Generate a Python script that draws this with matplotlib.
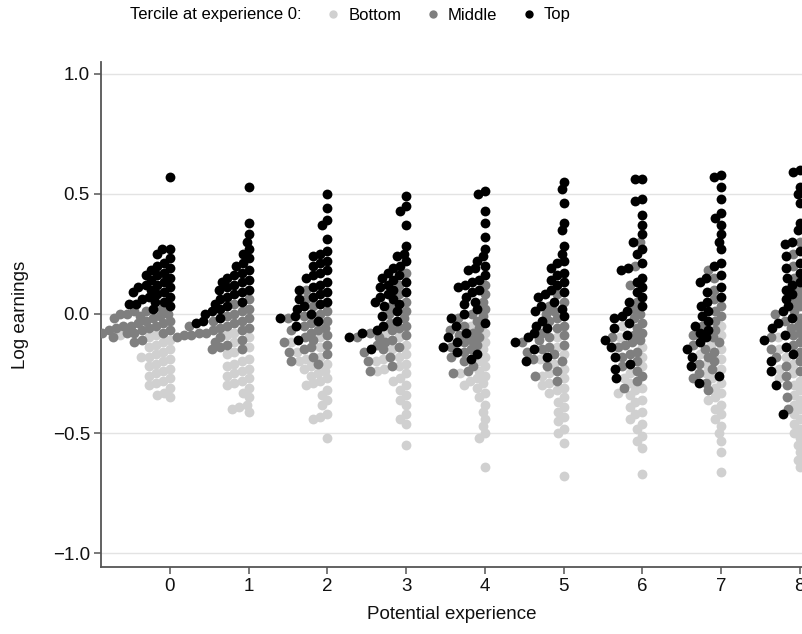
import numpy as np
import matplotlib
matplotlib.use("Agg")
import matplotlib.pyplot as plt
from matplotlib.lines import Line2D

# potential experience levels
experience = [0, 1, 2, 3, 4, 5, 6, 7, 8]

# log earnings by tercile at experience 0, one list per experience level
bottom = [
    [-0.09, -0.09, -0.10, -0.11, -0.12, -0.13, -0.14, -0.15, -0.16, -0.17, -0.18, -0.18, -0.19, -0.20,
     -0.21, -0.22, -0.23, -0.24, -0.25, -0.26, -0.27, -0.28, -0.29, -0.30, -0.31, -0.33, -0.34, -0.35],
    [-0.08, -0.09, -0.10, -0.12, -0.14, -0.16, -0.17, -0.19, -0.20, -0.21, -0.22, -0.23, -0.24, -0.25,
     -0.26, -0.27, -0.28, -0.29, -0.30, -0.31, -0.33, -0.35, -0.38, -0.39, -0.40, -0.41],
    [-0.10, -0.12, -0.14, -0.16, -0.18, -0.19, -0.20, -0.21, -0.22, -0.23, -0.24, -0.25, -0.26, -0.27,
     -0.28, -0.29, -0.30, -0.32, -0.34, -0.36, -0.38, -0.42, -0.43, -0.44, -0.52],
    [-0.08, -0.10, -0.13, -0.15, -0.17, -0.18, -0.19, -0.20, -0.21, -0.22, -0.23, -0.24, -0.25, -0.27,
     -0.28, -0.30, -0.32, -0.34, -0.36, -0.38, -0.42, -0.44, -0.46, -0.55],
    [-0.05, -0.08, -0.12, -0.15, -0.18, -0.20, -0.22, -0.24, -0.25, -0.26, -0.27, -0.28, -0.29, -0.30,
     -0.31, -0.33, -0.35, -0.38, -0.41, -0.44, -0.47, -0.50, -0.52, -0.64],
    [-0.10, -0.14, -0.17, -0.19, -0.21, -0.23, -0.25, -0.26, -0.27, -0.29, -0.30, -0.31, -0.32, -0.33,
     -0.35, -0.37, -0.39, -0.41, -0.43, -0.45, -0.48, -0.50, -0.54, -0.68],
    [-0.05, -0.10, -0.14, -0.18, -0.22, -0.25, -0.27, -0.29, -0.31, -0.32, -0.33, -0.34, -0.36, -0.37,
     -0.39, -0.41, -0.42, -0.44, -0.46, -0.48, -0.51, -0.53, -0.56, -0.67],
    [-0.05, -0.09, -0.13, -0.15, -0.17, -0.19, -0.21, -0.23, -0.25, -0.27, -0.29, -0.31, -0.33, -0.35,
     -0.36, -0.38, -0.40, -0.42, -0.44, -0.47, -0.50, -0.53, -0.58, -0.66],
    [-0.10, -0.15, -0.18, -0.21, -0.23, -0.25, -0.27, -0.28, -0.30, -0.32, -0.34, -0.36, -0.38, -0.40,
     -0.42, -0.44, -0.46, -0.48, -0.50, -0.52, -0.55, -0.58, -0.61, -0.64],
]

middle = [
    [0.02, 0.01, 0.01, 0.00, 0.00, 0.00, -0.01, -0.01, -0.02, -0.02, -0.03, -0.03, -0.04, -0.04, -0.05,
     -0.05, -0.05, -0.06, -0.06, -0.07, -0.07, -0.07, -0.08, -0.08, -0.08, -0.08, -0.09, -0.09, -0.10,
     -0.11, -0.12],
    [0.06, 0.04, 0.02, 0.01, 0.00, -0.01, -0.02, -0.03, -0.03, -0.04, -0.05, -0.05, -0.06, -0.06, -0.07,
     -0.07, -0.08, -0.08, -0.09, -0.09, -0.10, -0.10, -0.11, -0.12, -0.13, -0.14, -0.15, -0.15],
    [0.10, 0.06, 0.03, 0.01, 0.00, -0.01, -0.02, -0.03, -0.04, -0.05, -0.06, -0.07, -0.07, -0.08, -0.09,
     -0.10, -0.11, -0.12, -0.13, -0.14, -0.15, -0.16, -0.17, -0.18, -0.20, -0.21],
    [0.17, 0.12, 0.08, 0.05, 0.03, 0.01, 0.00, -0.02, -0.04, -0.05, -0.06, -0.07, -0.08, -0.09, -0.10,
     -0.10, -0.11, -0.12, -0.13, -0.14, -0.15, -0.16, -0.18, -0.20, -0.22, -0.24],
    [0.12, 0.08, 0.05, 0.02, 0.00, -0.01, -0.02, -0.03, -0.05, -0.06, -0.07, -0.08, -0.09, -0.10, -0.11,
     -0.12, -0.13, -0.14, -0.15, -0.16, -0.18, -0.20, -0.22, -0.24, -0.25],
    [0.08, 0.05, 0.03, 0.01, 0.00, -0.02, -0.03, -0.05, -0.06, -0.08, -0.09, -0.10, -0.11, -0.12, -0.13,
     -0.14, -0.15, -0.16, -0.17, -0.19, -0.20, -0.22, -0.24, -0.26, -0.28],
    [0.30, 0.20, 0.12, 0.05, 0.02, 0.00, -0.02, -0.04, -0.06, -0.08, -0.09, -0.10, -0.11, -0.12, -0.13,
     -0.14, -0.16, -0.17, -0.18, -0.20, -0.22, -0.24, -0.26, -0.28, -0.31],
    [0.18, 0.15, 0.10, 0.06, 0.03, 0.01, -0.01, -0.03, -0.05, -0.07, -0.09, -0.10, -0.12, -0.13, -0.15,
     -0.16, -0.18, -0.20, -0.21, -0.23, -0.25, -0.27, -0.29, -0.32],
    [0.30, 0.25, 0.20, 0.15, 0.10, 0.07, 0.05, 0.03, 0.01, 0.00, -0.02, -0.03, -0.05, -0.06, -0.08,
     -0.09, -0.10, -0.12, -0.13, -0.15, -0.16, -0.18, -0.20, -0.22, -0.24, -0.26, -0.30, -0.35, -0.40],
]

top = [
    [0.57, 0.27, 0.27, 0.25, 0.23, 0.21, 0.20, 0.19, 0.18, 0.17, 0.16, 0.16, 0.15, 0.14, 0.13, 0.12,
     0.12, 0.11, 0.11, 0.10, 0.09, 0.09, 0.08, 0.07, 0.07, 0.06, 0.05, 0.05, 0.04, 0.04, 0.03, 0.02],
    [0.53, 0.38, 0.33, 0.30, 0.27, 0.25, 0.23, 0.21, 0.20, 0.18, 0.17, 0.16, 0.15, 0.14, 0.13, 0.13,
     0.12, 0.11, 0.10, 0.10, 0.09, 0.08, 0.07, 0.06, 0.05, 0.04, 0.03, 0.02, 0.01, 0.00, -0.02, -0.03,
     -0.04],
    [0.50, 0.44, 0.39, 0.37, 0.31, 0.26, 0.25, 0.24, 0.22, 0.21, 0.20, 0.18, 0.17, 0.16, 0.15, 0.13,
     0.12, 0.11, 0.10, 0.09, 0.08, 0.07, 0.06, 0.05, 0.04, 0.03, 0.02, 0.00, -0.01, -0.02, -0.03, -0.05,
     -0.11],
    [0.49, 0.45, 0.43, 0.37, 0.28, 0.25, 0.24, 0.22, 0.20, 0.19, 0.17, 0.16, 0.15, 0.14, 0.13, 0.12,
     0.11, 0.10, 0.09, 0.08, 0.07, 0.06, 0.05, 0.04, 0.03, 0.01, -0.01, -0.03, -0.05, -0.07, -0.08,
     -0.10, -0.15],
    [0.51, 0.50, 0.43, 0.38, 0.32, 0.27, 0.24, 0.22, 0.20, 0.19, 0.18, 0.16, 0.14, 0.13, 0.12, 0.11,
     0.10, 0.09, 0.07, 0.05, 0.04, 0.02, 0.00, -0.02, -0.04, -0.05, -0.08, -0.10, -0.12, -0.14, -0.16,
     -0.17, -0.19],
    [0.55, 0.52, 0.46, 0.38, 0.35, 0.28, 0.25, 0.22, 0.21, 0.19, 0.17, 0.16, 0.14, 0.13, 0.12, 0.10,
     0.09, 0.08, 0.07, 0.05, 0.03, 0.02, 0.01, -0.01, -0.03, -0.05, -0.06, -0.08, -0.10, -0.12, -0.15,
     -0.18, -0.20],
    [0.56, 0.56, 0.48, 0.47, 0.41, 0.37, 0.33, 0.30, 0.27, 0.25, 0.21, 0.19, 0.18, 0.15, 0.13, 0.11,
     0.09, 0.07, 0.05, 0.03, 0.01, -0.01, -0.02, -0.04, -0.06, -0.09, -0.11, -0.14, -0.18, -0.21, -0.23,
     -0.27],
    [0.58, 0.57, 0.53, 0.48, 0.42, 0.40, 0.37, 0.33, 0.30, 0.27, 0.21, 0.20, 0.16, 0.15, 0.13, 0.11,
     0.09, 0.07, 0.05, 0.03, 0.01, -0.01, -0.03, -0.05, -0.07, -0.08, -0.10, -0.12, -0.15, -0.18, -0.22,
     -0.26, -0.29],
    [0.60, 0.59, 0.53, 0.50, 0.46, 0.38, 0.35, 0.30, 0.29, 0.26, 0.24, 0.21, 0.19, 0.17, 0.15, 0.13,
     0.12, 0.10, 0.08, 0.06, 0.03, 0.01, -0.02, -0.04, -0.06, -0.09, -0.11, -0.14, -0.17, -0.20, -0.24,
     -0.30, -0.42],
]

tercile_names = ["Bottom", "Middle", "Top"]
tercile_colors = ["#d0d0d0", "#7f7f7f", "#000000"]

W, H, DPI = 803, 634, 100
XMIN, XMAX = -0.876, 8.04
YMIN, YMAX = -1.058, 1.05
AX_LEFT, AX_RIGHT, AX_TOP, AX_BOTTOM = 101, 803, 62, 567  # pixels


def swarm_left(ys, sx, sy, d):
    """One sided beeswarm: push each point left of its column until it
    no longer sits on top of an earlier one (d = min distance in px).
    Points are placed from the highest value down."""
    placed = []
    offs = np.zeros(len(ys))
    order = np.argsort(-np.asarray(ys), kind='stable')
    for idx in order:
        yp = ys[idx] * sy
        near = [(ox, py) for ox, py in placed if abs(py - yp) < d]
        cands = [0.0]
        for ox, py in near:
            r = np.sqrt(d * d - (py - yp) ** 2)
            cands += [ox + r, ox - r]
        cands = sorted(c for c in cands if c >= 0)
        for c in cands:
            if all((c - ox) ** 2 + (py - yp) ** 2 >= d * d - 1e-6 for ox, py in near):
                break
        placed.append((c, yp))
        offs[idx] = c / sx
    return offs


plt.rcParams['font.family'] = ['Liberation Sans', 'DejaVu Sans']

fig = plt.figure(figsize=(W / DPI, H / DPI), dpi=DPI)
ax = fig.add_axes([AX_LEFT / W, (H - AX_BOTTOM) / H,
                   (AX_RIGHT - AX_LEFT) / W, (AX_BOTTOM - AX_TOP) / H])
ax.set_xlim(XMIN, XMAX)
ax.set_ylim(YMIN, YMAX)

# pixels per data unit, used by the swarm layout
sx = (AX_RIGHT - AX_LEFT) / (XMAX - XMIN)
sy = (AX_BOTTOM - AX_TOP) / (YMAX - YMIN)

for i, e in enumerate(experience):
    groups = [bottom[i], middle[i], top[i]]
    allys = []
    labels = []
    for k, g in enumerate(groups):
        allys += g
        labels += [k] * len(g)
    offs = swarm_left(allys, sx, sy, 7.5)
    xs = e - offs
    ys = np.array(allys)
    labels = np.array(labels)
    for k in range(3):
        sel = labels == k
        ax.scatter(xs[sel], ys[sel], s=50, color=tercile_colors[k], linewidths=0, zorder=3 + k)

# axes styling
for side in ['top', 'right']:
    ax.spines[side].set_visible(False)
for side in ['left', 'bottom']:
    ax.spines[side].set_color('#555555')
    ax.spines[side].set_linewidth(1.3)
ax.set_yticks([-1.0, -0.5, 0.0, 0.5, 1.0])
ax.set_yticklabels(['\u22121.0', '\u22120.5', '0.0', '0.5', '1.0'])
ax.set_xticks(experience)
ax.tick_params(axis='both', direction='out', length=5, width=1.1, color='#555555',
               labelsize=13.5, labelcolor='#111111', pad=3)
ax.grid(axis='y', color='#e3e3e3', linewidth=1.0, zorder=0)
ax.set_axisbelow(True)

ax.set_xlabel('Potential experience', fontsize=13.5, color='#111111', labelpad=8)
ax.set_ylabel('Log earnings', fontsize=13.5, color='#111111', labelpad=17)

# legend along the top
fig.text(130 / W, 1 - 15 / H, 'Tercile at experience 0:', fontsize=12, va='center', ha='left')
handles = [Line2D([], [], marker='o', linestyle='', markersize=6, markerfacecolor=c,
                  markeredgewidth=0) for c in tercile_colors]
fig.legend(handles, tercile_names, ncol=3, frameon=False, fontsize=12,
           loc='center left', bbox_to_anchor=(310 / W, 1 - 15 / H),
           handletextpad=0.4, columnspacing=1.4, handlelength=1.0)

fig.savefig('out.png', dpi=DPI)
